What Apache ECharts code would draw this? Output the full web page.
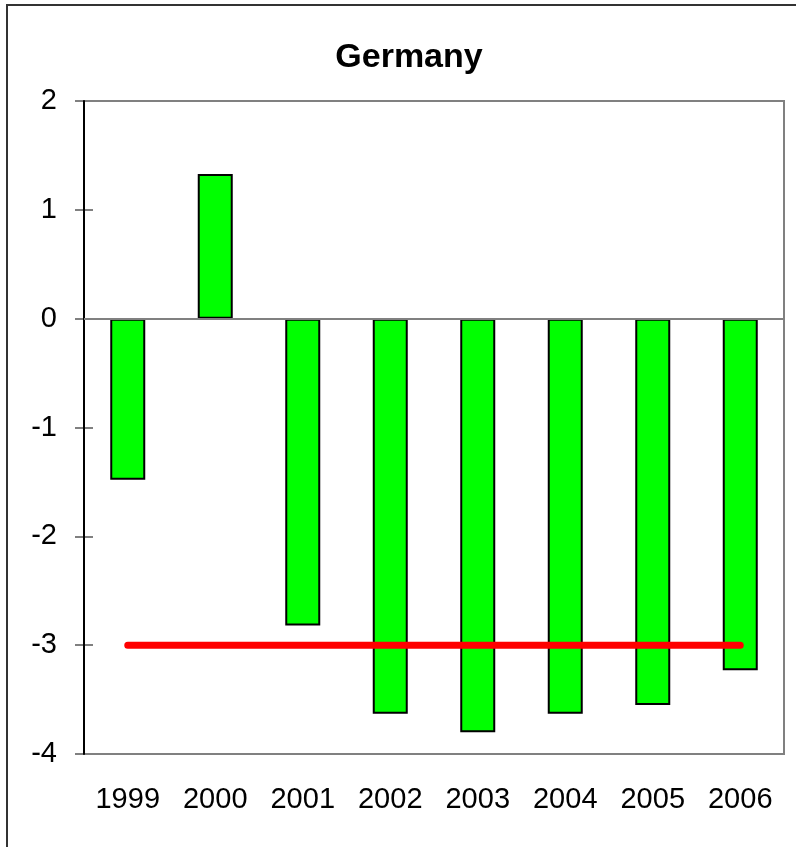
<!DOCTYPE html>
<html>
<head>
<meta charset="utf-8">
<script src="https://cdn.jsdelivr.net/npm/echarts@6/dist/echarts.min.js"></script>
<style>
  html, body { margin: 0; padding: 0; background: #fff; }
  #chart { width: 796px; height: 847px; }
</style>
</head>
<body>
<div id="chart"></div>
<script>
// Budget balance by year, with the -3 reference level
const years = ['1999', '2000', '2001', '2002', '2003', '2004', '2005', '2006'];
const balance = [-1.48, 1.33, -2.82, -3.63, -3.80, -3.63, -3.55, -3.23];
const limitLevel = [-3, -3, -3, -3, -3, -3, -3, -3];
const yTicks = [-4, -3, -2, -1, 0, 1, 2];

const chart = echarts.init(document.getElementById('chart'), null, { renderer: 'canvas' });
const font = 'Liberation Sans, Arial, sans-serif';

chart.setOption({
  backgroundColor: '#fff',
  animation: false,
  title: {
    text: 'Germany',
    left: 404,
    textAlign: 'center',
    top: 36,
    textStyle: { fontFamily: font, fontWeight: 'bold', fontSize: 34, color: '#000' }
  },
  graphic: [{
    type: 'rect',
    shape: { x: 7, y: 5, width: 900, height: 900 },
    style: { fill: 'none', stroke: '#333', lineWidth: 2 },
    silent: true
  }],
  grid: {
    left: 84, right: 12, top: 101, bottom: 93,
    show: true, borderColor: '#808080', borderWidth: 2, backgroundColor: '#fff'
  },
  xAxis: {
    type: 'category',
    data: years,
    axisLine: { show: false },
    axisTick: { show: false },
    axisLabel: { fontFamily: font, fontSize: 29, color: '#000', margin: 31 }
  },
  yAxis: [
    {
      // labels and cross ticks, shifted so the ticks straddle the axis line
      type: 'value',
      position: 'left',
      min: yTicks[0],
      max: yTicks[yTicks.length - 1],
      interval: 1,
      offset: -9,
      splitLine: { show: false },
      axisLine: { show: false },
      axisTick: { show: true, inside: false, length: 18, lineStyle: { color: '#808080', width: 2 } },
      axisLabel: { fontFamily: font, fontSize: 29, color: '#000', margin: 36 },
      z: 3
    },
    {
      // black axis line
      type: 'value',
      position: 'left',
      offset: 0,
      min: yTicks[0],
      max: yTicks[yTicks.length - 1],
      interval: 1,
      splitLine: { show: false },
      axisLine: { show: true, lineStyle: { color: '#000', width: 2 } },
      axisTick: { show: false },
      axisLabel: { show: false },
      z: 4
    }
  ],
  series: [
    {
      type: 'bar',
      data: balance,
      barWidth: 35,
      itemStyle: { color: '#00ff00', borderColor: '#000', borderWidth: 2 },
      markLine: {
        silent: true,
        symbol: 'none',
        label: { show: false },
        lineStyle: { color: '#808080', width: 2, type: 'solid' },
        data: [{ yAxis: 0 }]
      },
      z: 2
    },
    {
      type: 'line',
      data: limitLevel,
      symbol: 'none',
      lineStyle: { color: '#ff0000', width: 7, cap: 'round' },
      z: 5
    }
  ]
});
</script>
</body>
</html>
